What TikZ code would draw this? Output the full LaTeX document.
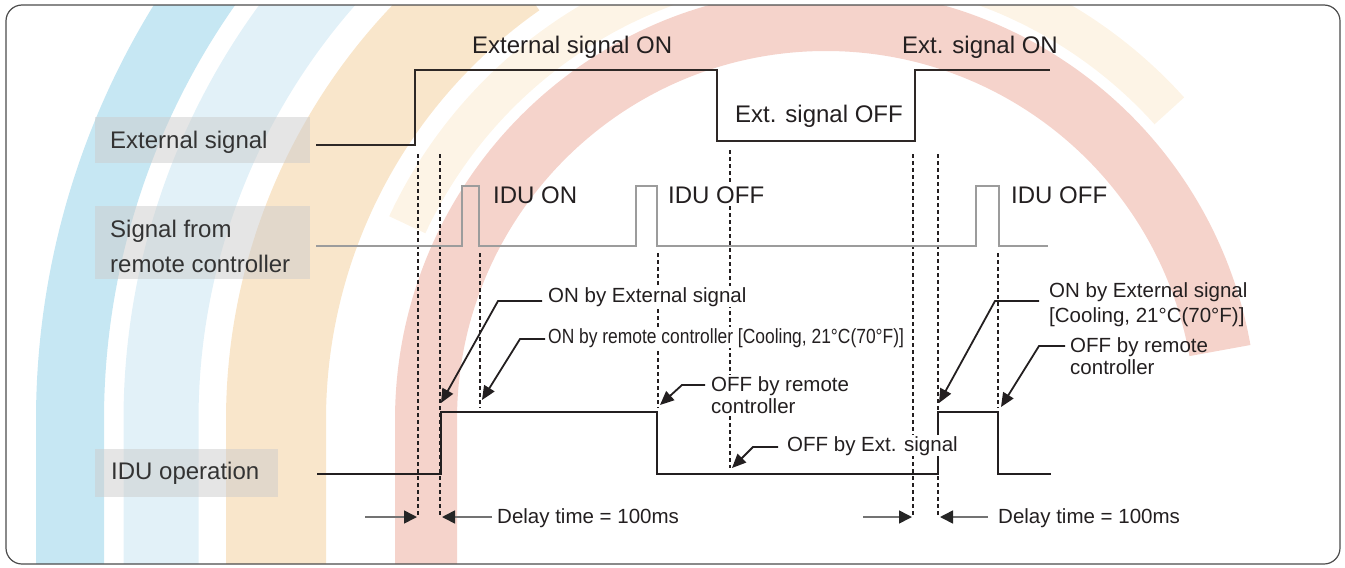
\documentclass[tikz,border=0pt]{standalone}
\usepackage{fontspec}
\setmainfont{Liberation Sans}
\newfontfamily\condfont[FakeStretch=0.85]{Liberation Sans}
\usetikzlibrary{arrows.meta}
\definecolor{bgblue}{HTML}{C6E7F3}
\definecolor{bgbluel}{HTML}{E2F1F8}
\definecolor{bgorange}{HTML}{F9E6CB}
\definecolor{bgbeige}{HTML}{FDF4E6}
\definecolor{bgred}{HTML}{F5D3CB}
\definecolor{ink}{HTML}{231F20}
\definecolor{labelink}{HTML}{333333}
\definecolor{sigext}{HTML}{2E2826}
\definecolor{sigrc}{HTML}{9C9C9C}
\begin{document}
\begin{tikzpicture}[x=1pt,y=-1pt,
  bigtxt/.style={font=\fontsize{24}{28}\selectfont, text=ink, inner sep=0pt, anchor=base west},
  lbltxt/.style={bigtxt, text=labelink},
  ann/.style={font=\fontsize{20.5}{22}\selectfont, text=ink, inner sep=0pt, anchor=base west, align=left},
  mask/.style={fill=white, inner sep=1pt},
  lbox/.style={fill=black!20, fill opacity=0.5, draw=none, inner sep=0pt, anchor=north west},
  guide/.style={draw=ink, line width=1.7pt, dash pattern=on 4pt off 3pt},
  leader/.style={draw=ink, line width=1.8pt, -{Triangle[length=14pt,width=12pt]}},
  delay/.style={draw=black!55, line width=1.6pt, -{Triangle[length=13pt,width=13pt,color=black!85]}},
  wave/.style={line width=2pt, line join=miter},
]
\useasboundingbox (0,0) rectangle (1345,568);
% background arcs
\begin{scope}
  \clip[rounded corners=16pt] (6,5) rectangle (1340,564);
  \draw[bgorange, line width=100pt] (276,600) -- (276,420) arc[start angle=180, end angle=235, radius=550];
  \draw[bgbluel, line width=75pt] (161,600) -- (161,420) arc[start angle=180, end angle=240, radius=665];
  \draw[bgblue, line width=68pt] (70,600) -- (70,420) arc[start angle=180, end angle=240, radius=756];
  \draw[bgbeige, line width=40pt] (826,420) ++(205:462) arc[start angle=205, end angle=318, radius=462];
  \draw[bgred, line width=62pt] (426,600) -- (426,420) arc[start angle=180, end angle=350, radius=400];
\end{scope}
% frame
\draw[draw=black!70, line width=1.2pt, rounded corners=16pt] (6,5) rectangle (1340,564);
% label boxes
\node[lbox, minimum width=215pt, minimum height=46pt] (b1) at (95,117) {};
\node[lbox, minimum width=215pt, minimum height=73pt] (b2) at (95,206) {};
\node[lbox, minimum width=183pt, minimum height=48pt] (b3) at (95,449) {};
\node[lbltxt] (l1) at (110,148) {External signal};
\node[lbltxt, align=left] (l2) at (110,272) {Signal from\\[7pt]remote controller};
\node[lbltxt] (l3) at (111,479) {IDU operation};
% guides
\draw[guide] (418,154) -- (418,517);
\draw[guide] (440,154) -- (440,517);
\draw[guide] (480,253) -- (480,408);
\draw[guide] (658,253) -- (658,408);
\draw[guide] (730,150) -- (730,468);
\draw[guide] (913,154) -- (913,517);
\draw[guide] (938,154) -- (938,517);
\draw[guide] (998,253) -- (998,408);
% waveforms
\draw[wave, sigext] (316,145) -- (415,145) -- (415,70) -- (717,70) -- (717,141) -- (915,141) -- (915,70) -- (1050,70);
\draw[wave, sigrc] (316,246) -- (462,246) -- (462,186) -- (479,186) -- (479,246) -- (636,246) -- (636,186) -- (657,186) -- (657,246) -- (976,246) -- (976,186) -- (999,186) -- (999,246) -- (1048,246);
\draw[wave, ink, line width=2.4pt] (317,474) -- (441,474) -- (441,412) -- (657,412) -- (657,474) -- (938,474) -- (938,412) -- (998,412) -- (998,474) -- (1051,474);
% state texts
\node[bigtxt] (eon) at (472,53) {External signal ON};
\node[bigtxt] (eon2) at (902,53) {Ext. signal ON};
\node[bigtxt] (eoff) at (735,122) {Ext. signal OFF};
\node[bigtxt] (ion) at (493,203) {IDU ON};
\node[bigtxt, mask] (ioff1) at (667,203) {IDU OFF};
\node[bigtxt] (ioff2) at (1011,203) {IDU OFF};
% annotations
\node[ann, mask] (t1) at (547,302) {ON by External signal};
\node[ann, mask] (t2) at (547,343) {\condfont ON by remote controller [Cooling, 21°C(70°F)]};
\node[ann, mask] (t3) at (710,413) {OFF by remote\\controller};
\node[ann, mask] (t4) at (786,451) {OFF by Ext. signal};
\node[ann] (t5) at (1049,322) {ON by External signal\\[3pt][Cooling, 21°C(70°F)]};
\node[ann] (t6) at (1070,374) {OFF by remote\\controller};
\node[ann] (d1) at (497,523) {Delay time = 100ms};
\node[ann] (d2) at (998,523) {Delay time = 100ms};
% leader arrows
\coordinate (k1) at (498,301);  \coordinate (tip1) at (441,403);
\coordinate (k2) at (520,339);  \coordinate (tip2) at (482,400);
\coordinate (k3) at (682,385);  \coordinate (tip3) at (660,405);
\coordinate (k4) at (753,447);  \coordinate (tip4) at (732,468);
\coordinate (k5) at (995,301);  \coordinate (tip5) at (939,403);
\coordinate (k6) at (1039,346); \coordinate (tip6) at (1001,407);
\draw[leader] ([shift={(-5,-1)}]t1.base west) -- (k1) -- (tip1);
\draw[leader] ([shift={(-2,-4)}]t2.base west) -- (k2) -- (tip2);
\draw[leader] ([shift={(-5,-28)}]t3.base west) -- (k3) -- (tip3);
\draw[leader] ([shift={(-8,-4)}]t4.base west) -- (k4) -- (tip4);
\draw[leader] ([shift={(-10,-21)}]t5.base west) -- (k5) -- (tip5);
\draw[leader] ([shift={(-5,-28)}]t6.base west) -- (k6) -- (tip6);
% delay arrows
\coordinate (da1) at (365,517); \coordinate (dt1) at (417,517);
\coordinate (dt2) at (442,517);
\coordinate (da2) at (863,517); \coordinate (dt3) at (912,517);
\coordinate (dt4) at (940,517);
\draw[delay] (da1) -- (dt1);
\draw[delay] ([shift={(-5,-6)}]d1.base west) -- (dt2);
\draw[delay] (da2) -- (dt3);
\draw[delay] ([shift={(-10,-6)}]d2.base west) -- (dt4);
\end{tikzpicture}
\end{document}
